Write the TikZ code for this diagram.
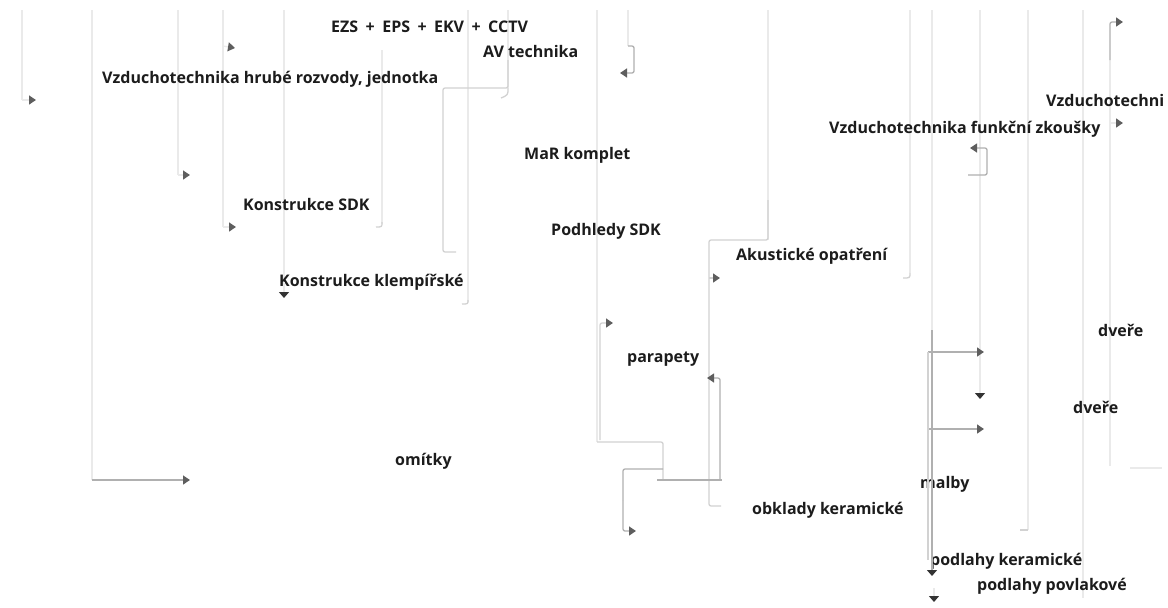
\documentclass[tikz,border=0pt]{standalone}
\usepackage{fontspec}
\setmainfont{Open Sans}
\usetikzlibrary{arrows.meta}
\definecolor{faint}{HTML}{EAEAEA}
\definecolor{light}{HTML}{D2D2D2}
\definecolor{mid}{HTML}{B0B0B0}
\definecolor{tipc}{HTML}{5E5E5E}
\definecolor{txt}{HTML}{1C1C1C}
\tikzset{
  lab/.style={anchor=base west, inner sep=0pt, text=txt, font=\bfseries\fontsize{16}{16}\selectfont},
  bg/.style={draw=faint, line width=2.4pt},
  con/.style={draw=mid, line width=1.3pt, rounded corners=2pt},
  tipR/.style={-{Triangle[length=7pt,width=9pt,color=tipc]}},
  tipD/.style={-{Triangle[length=6pt,width=10pt,color=black!80]}},
}
\begin{document}
\begin{tikzpicture}[x=1pt,y=-1pt]
\useasboundingbox (0,0) rectangle (1168,608);
\clip (0,0) rectangle (1168,608);
\fill[white] (0,0) rectangle (1168,608);

% faint background verticals
\foreach \x/\a/\b in {22/10/100, 92/10/480, 178/10/175, 223/10/227, 284/10/290,
  382/50/224, 468/10/302, 508/10/88, 597/10/442, 628/10/46, 768/10/240,
  910/10/273, 932/10/352, 980/10/392, 1028/10/530, 1083/10/598, 1110/60/466}
  \draw[bg] (\x,\a) -- (\x,\b);

% labels
\node[lab] (ezs) at (331,32) {EZS\hspace{3.3pt} + \hspace{3.3pt}EPS\hspace{3.3pt} + \hspace{3.3pt}EKV\hspace{3.3pt} + \hspace{3.3pt}CCTV};
\node[lab] (av) at (483,57) {AV technika};
\node[lab] (vzhr) at (102,83) {Vzduchotechnika hrubé rozvody, jednotka};
\node[lab] (vzx) at (1046,106) {Vzduchotechni};
\node[lab] (vzfz) at (829,133) {Vzduchotechnika funkční zkoušky};
\node[lab] (mar) at (524,159) {MaR komplet};
\node[lab] (ksdk) at (243,210) {Konstrukce SDK};
\node[lab] (psdk) at (551,235) {Podhledy SDK};
\node[lab] (akus) at (736,260) {Akustické opatření};
\node[lab] (kkl) at (279,286) {Konstrukce klempířské};
\node[lab] (dv1) at (1098,336) {dveře};
\node[lab] (par) at (627,362) {parapety};
\node[lab] (dv2) at (1073,413) {dveře};
\node[lab] (omi) at (395,465) {omítky};
\node[lab] (mal) at (920,488) {malby};
\node[lab] (obk) at (752,514) {obklady keramické};
\node[lab] (pk) at (930,565) {podlahy keramické};
\node[lab] (pp) at (977,590) {podlahy povlakové};

% named points
\coordinate (a1s) at (22,100);   \coordinate (a1e) at (36,100);
\coordinate (a2s) at (92,480);   \coordinate (a2e) at (190,480);
\coordinate (a3s) at (178,175);  \coordinate (a3e) at (190,175);
\coordinate (a4s) at (223,227);  \coordinate (a4e) at (236,227);
\coordinate (a5s) at (223,46);   \coordinate (a5e) at (235,48);
\coordinate (a6s) at (284,282);  \coordinate (a6e) at (284,298);
\coordinate (a7s) at (508,60);   \coordinate (a7e) at (456,252);
\coordinate (a8s) at (628,46);   \coordinate (a8e) at (620,73);
\coordinate (a9s) at (600,440);  \coordinate (a9e) at (613,323);
\coordinate (b1s) at (768,200);  \coordinate (b1e) at (721,506);
\coordinate (b2s) at (709,278);  \coordinate (b2e) at (720,278);
\coordinate (b3s) at (720,480);  \coordinate (b3e) at (707,378);
\coordinate (b4s) at (597,442);  \coordinate (b4e) at (636,531);
\coordinate (c1s) at (932,330);  \coordinate (c1e) at (932,576);
\coordinate (c2s) at (928,352);  \coordinate (c2e) at (984,352);
\coordinate (c3s) at (928,429);  \coordinate (c3e) at (984,429);
\coordinate (c4s) at (980,380);  \coordinate (c4e) at (980,399);
\coordinate (c5s) at (968,175);  \coordinate (c5e) at (970,148);
\coordinate (c6s) at (934,588);  \coordinate (c6e) at (934,602);
\coordinate (d1s) at (1110,60);  \coordinate (d1e) at (1123,22);
\coordinate (d2s) at (1110,123); \coordinate (d2e) at (1123,123);

% connectors
\draw[con,draw=faint,tipR] (a1s) -- (a1e);
\draw[con,tipR] (a2s) -- (a2e);
\draw[con,draw=faint,tipR] (a3s) -- (a3e);
\draw[con,draw=faint,tipR] (a4s) -- (a4e);
\draw[con,draw=faint,tipR] (a5s) -- (a5e);
\draw[con,draw=faint,tipD] (a6s) -- (a6e);
\draw[con,draw=light] (a7s) |- (443,88) |- (a7e);
\draw[con,draw=light] (508,88) .. controls (508,95) .. (501,98);
\draw[con,tipR] (a8s) -- (634,46) -- (634,73) -- (a8e);
\draw[con,draw=light] (382,222) .. controls (382,227) .. (376,227);
\draw[con,draw=light] (468,300) .. controls (468,304) .. (462,304);
\draw[con,draw=light,tipR] (a9s) |- (a9e);
\draw[con,draw=light] (b1s) |- (709,240) |- (b1e);
\draw[con,draw=light,tipR] (b2s) -- (b2e);
\draw[con,tipR] (b3s) |- (b3e);
\draw[con,draw=light] (b4s) -| (663,480);
\draw[con] (663,469) -| (623,500);
\draw[con,tipR] (623,500) |- (b4e);
\draw[con] (657,480) -- (722,480);
\draw[con,tipD] (c1s) -- (c1e);
\draw[con,tipR] (c2s) -- (c2e);
\draw[con,tipR] (c3s) -- (c3e);
\draw[con,draw=light] (928,352) -- (928,560);
\draw[con,draw=faint,tipD] (c4s) -- (c4e);
\draw[con,tipR] (c5s) -| (987,148) -- (c5e);
\draw[con,draw=faint,tipD] (c6s) -- (c6e);
\draw[con,draw=light] (910,273) .. controls (910,278) .. (903,278);
\draw[con,draw=light] (1028,530) -- (1020,530);
\draw[con,tipR] (d1s) |- (d1e);
\draw[con,draw=faint,tipR] (d2s) -- (d2e);
\draw[con,draw=faint] (1130,468) -- (1162,468);
\end{tikzpicture}
\end{document}
